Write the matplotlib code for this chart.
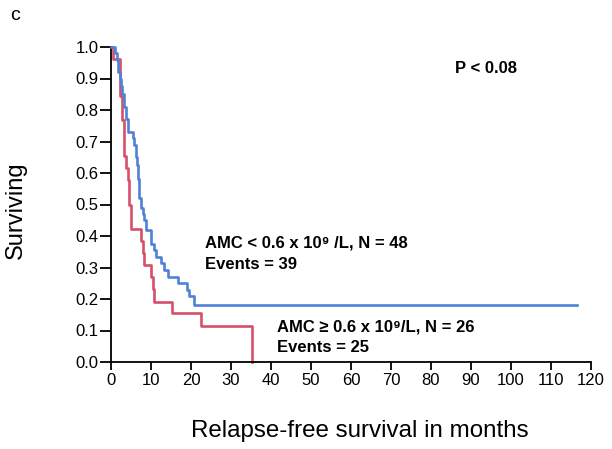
import matplotlib.pyplot as plt

plt.rcParams['font.family'] = ['Liberation Sans', 'DejaVu Sans']

# AMC < 0.6 x 10^9/L (blue), step times in months and survival after each step
blue_t = [0, 1.0, 1.4, 1.8, 2.2, 2.6, 2.8, 3.3, 3.8, 4.3, 5.4, 5.8, 6.2, 6.4, 6.7, 7.1, 7.5, 8.0,
          8.3, 8.75, 10.0, 10.8, 11.25, 12.5, 13.2, 14.2, 16.7, 18.9, 19.6, 20.8, 116.5]
blue_s = [1.0, 0.98, 0.96, 0.92, 0.90, 0.875, 0.85, 0.81, 0.77, 0.73, 0.71, 0.69, 0.65, 0.625, 0.58,
          0.52, 0.49, 0.47, 0.45, 0.42, 0.375, 0.354, 0.333, 0.313, 0.292, 0.271, 0.25, 0.229, 0.208,
          0.181, 0.181]

# AMC >= 0.6 x 10^9/L (red)
red_t = [0, 0.5, 2.25, 2.8, 3.3, 3.75, 4.2, 4.6, 5.0, 7.5, 7.9, 8.3, 10.0, 10.4, 10.8, 15.25, 22.5, 35.2]
red_s = [1.0, 0.962, 0.846, 0.769, 0.654, 0.615, 0.577, 0.5, 0.423, 0.385, 0.346, 0.308, 0.269,
         0.231, 0.192, 0.154, 0.115, 0.0]

xticks = list(range(0, 121, 10))
yticks = [i / 10 for i in range(11)]

fig = plt.figure(figsize=(6.12, 4.49), dpi=100)
ax = fig.add_axes([111 / 612, 1 - 362 / 449, 480 / 612, 315 / 449])

ax.step(blue_t, blue_s, where='post', color='#4f82d6', lw=1.9, clip_on=False, zorder=3)
ax.step(red_t, red_s, where='post', color='#d6506a', lw=1.9, clip_on=False, zorder=2)

ax.set_xlim(0, 120)
ax.set_ylim(0, 1.0)
ax.set_xticks(xticks)
ax.set_yticks(yticks)
ax.set_yticklabels([f'{v:.1f}' for v in yticks])
ax.spines['top'].set_visible(False)
ax.spines['right'].set_visible(False)
for s in ['left', 'bottom']:
    ax.spines[s].set_linewidth(1.3)
ax.tick_params(axis='x', direction='out', length=6, width=1.3, labelsize=12, pad=2)
ax.tick_params(axis='y', direction='out', length=8, width=1.3, labelsize=12, pad=1)

bold = dict(fontsize=12, fontweight='bold', va='center')
ax.text(86, 0.933, 'P < 0.08', **bold)
ax.text(23.5, 0.378, 'AMC < 0.6 x 10\u2079 /L, N = 48', **bold)
ax.text(23.5, 0.31, 'Events = 39', **bold)
ax.text(41.5, 0.111, 'AMC \u2265 0.6 x 10\u2079/L, N = 26', **bold)
ax.text(41.5, 0.046, 'Events = 25', **bold)

fig.text(16 / 612, 1 - 210 / 449, 'Surviving', rotation=90, fontsize=17, ha='center', va='center')
fig.text(360 / 612, 1 - 431 / 449, 'Relapse-free survival in months', fontsize=17.4, ha='center', va='center')
fig.text(10 / 612, 1 - 15 / 449, 'c', fontsize=14, ha='left', va='center')

fig.savefig('out.png', dpi=100)
